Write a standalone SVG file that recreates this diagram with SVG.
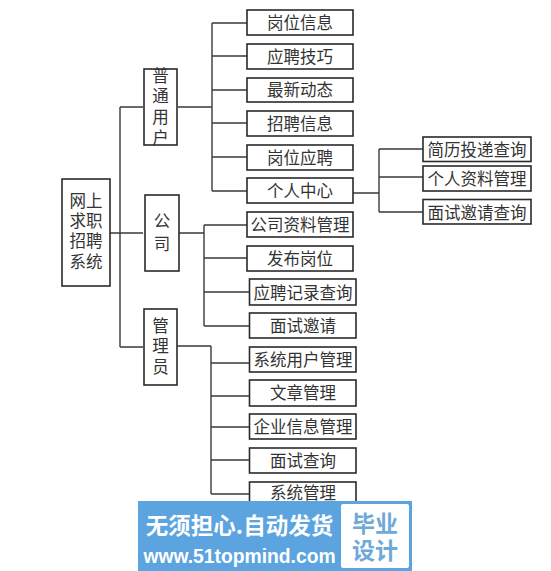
<svg xmlns="http://www.w3.org/2000/svg" width="551" height="571" viewBox="0 0 551 571">
<style>
.b{fill:#fff;stroke:#2a2a2a;stroke-width:1.6}
.t{font-family:"Noto Sans CJK SC","Liberation Serif",serif;font-size:16.5px;fill:#333;text-anchor:middle;dominant-baseline:central}
.c{fill:none;stroke:#3a3a3a;stroke-width:1.4}
.w{font-weight:700;fill:#fff;text-anchor:middle;dominant-baseline:central}
.cn{font-family:"Noto Sans CJK SC","Liberation Sans",sans-serif}
.en{font-family:"Liberation Sans",sans-serif}
.v{font-family:"Noto Sans CJK SC","Liberation Sans",sans-serif;font-weight:700;font-size:23px;fill:#6ea9d8;text-anchor:middle;dominant-baseline:central}
</style>
<rect width="551" height="571" fill="#fff"/>
<g id="connectors">
<path class="c" d="M110 233H143M120 107V347M120 107H143M120 347H143"/>
<path class="c" d="M178 107H212M212 23V191M212 23H247M212 56H247M212 90H247M212 123H247M212 157H247M212 191H247"/>
<path class="c" d="M179 233H204M204 225V326M204 225H247M204 258H247M204 292H249M204 326H249"/>
<path class="c" d="M177 346H211M211 346V494M211 363H249M211 396H249M211 427H249M211 460H249M211 494H249"/>
<path class="c" d="M353 193H379M379 149V212M379 149H423M379 177H423M379 212H423"/>
</g>
<g id="root"><rect class="b" x="62" y="179" width="48" height="107"/><text class="t"><tspan x="86" y="200">网上</tspan><tspan x="86" y="220">求职</tspan><tspan x="86" y="240">招聘</tspan><tspan x="86" y="261">系统</tspan></text></g>
<g id="user"><rect class="b" x="144" y="69" width="33" height="76"/><text class="t"><tspan x="160.500" y="75">普</tspan><tspan x="160.500" y="95">通</tspan><tspan x="160.500" y="116">用</tspan><tspan x="160.500" y="137">户</tspan></text></g>
<g id="company"><rect class="b" x="145" y="195" width="34" height="76"/><text class="t"><tspan x="162" y="220">公</tspan><tspan x="162" y="243">司</tspan></text></g>
<g id="admin"><rect class="b" x="144" y="309" width="33" height="76"/><text class="t"><tspan x="160.500" y="325">管</tspan><tspan x="160.500" y="345">理</tspan><tspan x="160.500" y="366">员</tspan></text></g>
<g id="n1"><rect class="b" x="247" y="10" width="106" height="25"/><text class="t" x="300" y="22">岗位信息</text></g>
<g id="n2"><rect class="b" x="247" y="44" width="106" height="25"/><text class="t" x="300" y="56">应聘技巧</text></g>
<g id="n3"><rect class="b" x="247" y="78" width="106" height="24"/><text class="t" x="300" y="89">最新动态</text></g>
<g id="n4"><rect class="b" x="247" y="111" width="106" height="25"/><text class="t" x="300" y="123">招聘信息</text></g>
<g id="n5"><rect class="b" x="247" y="145" width="106" height="25"/><text class="t" x="300" y="157">岗位应聘</text></g>
<g id="n6"><rect class="b" x="247" y="178" width="106" height="25"/><text class="t" x="300" y="190">个人中心</text></g>
<g id="n7"><rect class="b" x="247" y="212" width="106" height="25"/><text class="t" x="300" y="224">公司资料管理</text></g>
<g id="n8"><rect class="b" x="247" y="246" width="106" height="25"/><text class="t" x="300" y="258">发布岗位</text></g>
<g id="n9"><rect class="b" x="249.500" y="279" width="106.500" height="26"/><text class="t" x="303" y="292">应聘记录查询</text></g>
<g id="n10"><rect class="b" x="249.500" y="313" width="106.500" height="25"/><text class="t" x="303" y="325">面试邀请</text></g>
<g id="n11"><rect class="b" x="249.500" y="347" width="106.500" height="25"/><text class="t" x="303" y="359">系统用户管理</text></g>
<g id="n12"><rect class="b" x="249.500" y="380" width="106.500" height="26"/><text class="t" x="303" y="392">文章管理</text></g>
<g id="n13"><rect class="b" x="249.500" y="414" width="106.500" height="25"/><text class="t" x="303" y="426">企业信息管理</text></g>
<g id="n14"><rect class="b" x="249.500" y="448" width="106.500" height="25"/><text class="t" x="303" y="460">面试查询</text></g>
<g id="n15"><rect class="b" x="249.500" y="482" width="106.500" height="25"/><text class="t" x="303" y="492">系统管理</text></g>
<g id="p1"><rect class="b" x="423" y="137" width="108" height="24.500"/><text class="t" x="477" y="149">简历投递查询</text></g>
<g id="p2"><rect class="b" x="423" y="166" width="108" height="25"/><text class="t" x="477" y="178">个人资料管理</text></g>
<g id="p3"><rect class="b" x="423" y="199.500" width="108" height="24.500"/><text class="t" x="477" y="212">面试邀请查询</text></g>
<g id="watermark">
<rect x="138" y="501" width="274" height="70" fill="#5ba4e0"/>
<rect x="341" y="504" width="68" height="64" rx="2" fill="#fff"/>
<text class="w cn" x="239.500" y="524" font-size="22.500">无须担心.自动发货</text>
<text class="w en" x="239.500" y="556" font-size="19.300">www.51topmind.com</text>
<text class="v"><tspan x="375" y="522">毕业</tspan><tspan x="375" y="549">设计</tspan></text>
</g>
</svg>
